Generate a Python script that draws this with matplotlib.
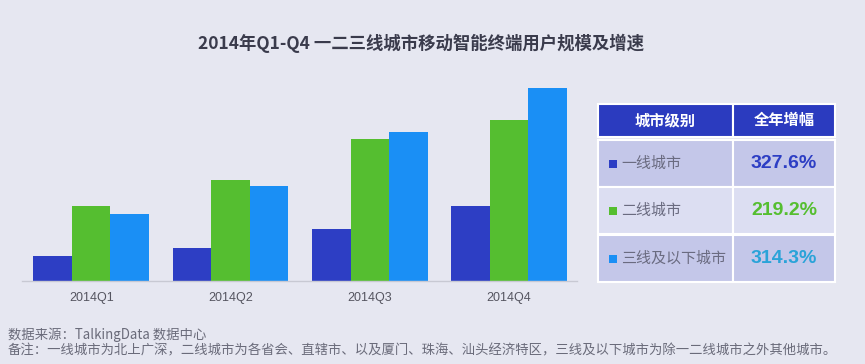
import matplotlib.pyplot as plt
import numpy as np
from matplotlib.patches import Rectangle

# data (arbitrary units)
quarters = ['2014Q1', '2014Q2', '2014Q3', '2014Q4']
tier1 = [25.3, 33.3, 51.7, 75.3]     # 一线城市
tier2 = [75.3, 100.7, 142.0, 161.0]  # 二线城市
tier3 = [67.3, 94.7, 149.3, 193.3]   # 三线及以下城市
series_colors = ['#2d3ec4', '#55be30', '#1a8ff5']

table_head = ['城市级别', '全年增幅']
table_names = ['一线城市', '二线城市', '三线及以下城市']
table_growth = ['327.6%', '219.2%', '314.3%']
growth_colors = ['#2d3ec4', '#55be30', '#2aa3d8']

title = '2014年Q1-Q4 一二三线城市移动智能终端用户规模及增速'
note1 = '数据来源：TalkingData 数据中心'
note2 = '备注：一线城市为北上广深，二线城市为各省会、直辖市、以及厦门、珠海、汕头经济特区，三线及以下城市为除一二线城市之外其他城市。'

bg = '#e6e7f1'
cjk = ['Noto Sans CJK SC', 'DejaVu Sans']
plt.rcParams['font.family'] = cjk

W, H = 865, 364
fig = plt.figure(figsize=(W / 100, H / 100), dpi=100, facecolor=bg)

# bar chart
ax = fig.add_axes([21.7 / W, (H - 281) / H, (577 - 21.7) / W, 201 / H])
ax.set_facecolor(bg)
x = np.arange(len(quarters))
bw = 0.2765
for i, vals in enumerate([tier1, tier2, tier3]):
    ax.bar(x + (i - 1) * bw, vals, bw, color=series_colors[i], linewidth=0)
ax.set_xlim(-0.499, 3.487)
ax.set_ylim(0, 201)
ax.set_xticks(x)
ax.set_xticklabels(quarters, family='Liberation Sans', fontsize=9, color='#555560')
ax.tick_params(axis='x', length=0, pad=8)
ax.set_yticks([])
for s in ['top', 'left', 'right']:
    ax.spines[s].set_visible(False)
ax.spines['bottom'].set_color('#c8c9d3')
ax.spines['bottom'].set_linewidth(1)

# table drawn in pixel coordinates
tb = fig.add_axes([0, 0, 1, 1], facecolor='none')
tb.set_xlim(0, W)
tb.set_ylim(H, 0)
tb.axis('off')

x0, xm, x1 = 598, 733, 835
tb.add_patch(Rectangle((x0, 104), xm - x0, 33, facecolor='#2b3bbf', edgecolor='white', lw=1.5))
tb.add_patch(Rectangle((xm, 104), x1 - xm, 33, facecolor='#2b3bbf', edgecolor='white', lw=1.5))
tb.text((x0 + xm) / 2, 120.5, table_head[0], ha='center', va='center', color='white',
        fontsize=11, fontweight='bold')
tb.text((xm + x1) / 2, 120.5, table_head[1], ha='center', va='center', color='white',
        fontsize=11, fontweight='bold')

row_tops = [140, 187, 235]
row_h = 47
row_fill = ['#c4c7e9', '#dcdef2', '#c4c7e9']
for i in range(3):
    y = row_tops[i]
    tb.add_patch(Rectangle((x0, y), xm - x0, row_h, facecolor=row_fill[i], edgecolor='white', lw=1.5))
    tb.add_patch(Rectangle((xm, y), x1 - xm, row_h, facecolor=row_fill[i], edgecolor='white', lw=1.5))
    yc = y + row_h / 2
    tb.add_patch(Rectangle((609, yc - 4), 8, 8, facecolor=series_colors[i], lw=0))
    tb.text(621, yc, table_names[i], ha='left', va='center', color='#6a6b80', fontsize=10.8)
    tb.text((xm + x1) / 2, yc, table_growth[i], ha='center', va='center', color=growth_colors[i],
            fontsize=14, fontweight='bold', family='Liberation Sans')

# title and notes
fig.text(421 / W, 1 - 43 / H, title, ha='center', va='center', fontsize=12.5,
         fontweight='bold', color='#3a3b4c')
fig.text(8 / W, 1 - 335 / H, note1, ha='left', va='center', fontsize=9.6, color='#6a6b7a')
fig.text(8 / W, 1 - 350 / H, note2, ha='left', va='center', fontsize=9.6, color='#6a6b7a')

fig.savefig('out.png', dpi=100, facecolor=bg)
